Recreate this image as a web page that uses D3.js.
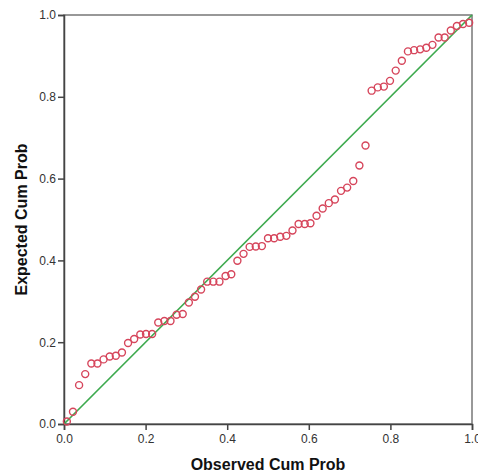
<!DOCTYPE html>
<html>
<head>
<meta charset="utf-8">
<script src="https://cdn.jsdelivr.net/npm/d3@7"></script>
<style>
  body { margin: 0; background: #fff; }
  .tick text { font-family: "Liberation Sans", Arial, sans-serif; font-size: 12px; fill: #333; }
  .aTitle { font-family: "Liberation Sans", Arial, sans-serif; font-size: 16px; font-weight: bold; fill: #111; }
</style>
</head>
<body>
<div id="chart"></div>
<script>
// observed cumulative probability (x) and expected cumulative probability (y)
var observedCum = [0.007, 0.022, 0.037, 0.052, 0.067, 0.082, 0.097, 0.112, 0.127, 0.142,
  0.157, 0.172, 0.187, 0.201, 0.216, 0.231, 0.246, 0.261, 0.276, 0.291,
  0.306, 0.321, 0.336, 0.351, 0.366, 0.381, 0.396, 0.410, 0.425, 0.440,
  0.455, 0.470, 0.485, 0.500, 0.515, 0.530, 0.545, 0.560, 0.575, 0.590,
  0.604, 0.619, 0.634, 0.649, 0.664, 0.679, 0.694, 0.709, 0.724, 0.739,
  0.754, 0.769, 0.784, 0.799, 0.813, 0.828, 0.843, 0.858, 0.873, 0.888,
  0.903, 0.918, 0.933, 0.948, 0.963, 0.978, 0.993];

var expectedCum = [0.006, 0.030, 0.095, 0.122, 0.148, 0.148, 0.158, 0.165, 0.167, 0.175,
  0.198, 0.208, 0.219, 0.220, 0.220, 0.248, 0.252, 0.252, 0.267, 0.269,
  0.297, 0.311, 0.329, 0.348, 0.348, 0.348, 0.362, 0.366, 0.399, 0.416,
  0.433, 0.434, 0.435, 0.454, 0.454, 0.458, 0.460, 0.473, 0.489, 0.489,
  0.491, 0.509, 0.527, 0.540, 0.549, 0.570, 0.578, 0.594, 0.632, 0.681,
  0.815, 0.823, 0.825, 0.839, 0.864, 0.888, 0.911, 0.914, 0.916, 0.920,
  0.927, 0.945, 0.945, 0.962, 0.973, 0.978, 0.981];

var tickValues = [0, 0.2, 0.4, 0.6, 0.8, 1.0];
var refLine = [0, 1];

var svgWidth = 478;
var svgHeight = 474;
var margin = { top: 15, right: 6, bottom: 50, left: 64 };
var width = svgWidth - margin.left - margin.right;
var height = svgHeight - margin.top - margin.bottom;

var svg = d3.select("#chart")
  .append("svg")
  .attr("width", svgWidth)
  .attr("height", svgHeight);

var chartGroup = svg.append("g")
  .attr("transform", `translate(${margin.left}, ${margin.top})`);

var xScale = d3.scaleLinear().domain([0, 1]).range([0, width]);
var yScale = d3.scaleLinear().domain([0, 1]).range([height, 0]);

// frame on top and right
chartGroup.append("rect")
  .attr("x", 0).attr("y", 0)
  .attr("width", width).attr("height", height)
  .attr("fill", "none")
  .attr("stroke", "#777")
  .attr("stroke-width", 1.5);

// axes
var bottomAxis = d3.axisBottom(xScale).tickValues(tickValues).tickFormat(d3.format(".1f")).tickSize(6).tickPadding(4);
var leftAxis = d3.axisLeft(yScale).tickValues(tickValues).tickFormat(d3.format(".1f")).tickSize(6).tickPadding(2);

var xAxis = chartGroup.append("g")
  .attr("transform", `translate(0, ${height})`)
  .call(bottomAxis);
var yAxis = chartGroup.append("g").call(leftAxis);

[xAxis, yAxis].forEach(function(ax) {
  ax.select(".domain").attr("stroke", "#444").attr("stroke-width", 1.5);
  ax.selectAll(".tick line").attr("stroke", "#444").attr("stroke-width", 1.5);
});

// reference line
chartGroup.append("line")
  .attr("x1", xScale(refLine[0])).attr("y1", yScale(refLine[0]))
  .attr("x2", xScale(refLine[1])).attr("y2", yScale(refLine[1]))
  .attr("stroke", "#3daa4e")
  .attr("stroke-width", 1.7);

// points
chartGroup.selectAll("circle")
  .data(observedCum)
  .enter()
  .append("circle")
  .attr("cx", d => xScale(d))
  .attr("cy", (d, i) => yScale(expectedCum[i]))
  .attr("r", 3.5)
  .attr("fill", "none")
  .attr("stroke", "#d6455b")
  .attr("stroke-width", 1.4);

// axis titles
svg.append("text")
  .attr("class", "aTitle")
  .attr("x", margin.left + width / 2)
  .attr("y", 470)
  .attr("text-anchor", "middle")
  .text("Observed Cum Prob");

svg.append("text")
  .attr("class", "aTitle")
  .attr("transform", `translate(27, ${margin.top + height / 2}) rotate(-90)`)
  .attr("text-anchor", "middle")
  .text("Expected Cum Prob");
</script>
</body>
</html>
